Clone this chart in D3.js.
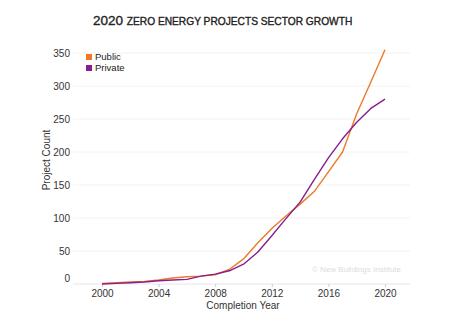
<!DOCTYPE html>
<html><head><meta charset="utf-8">
<script src="https://cdn.jsdelivr.net/npm/d3@7"></script>
<style>body{margin:0;background:#fff;}svg{display:block;font-family:"Liberation Sans",Arial,sans-serif;}</style>
</head><body>
<svg id="c" width="450" height="321"></svg>
<script>
const years = [2000,2001,2002,2003,2004,2005,2006,2007,2008,2009,2010,2011,2012,2013,2014,2015,2016,2017,2018,2019,2020];
const publicVals  = [1,2,3,4,6,9,11,12,14,22,38,62,84,103,121,140,170,200,258,306,355];
const privateVals = [0,1,2,3,5,6,7,12,15,20,30,48,73,99,124,158,191,220,245,266,280];
const yTicks = [0,50,100,150,200,250,300,350];
const xTicks = [2000,2004,2008,2012,2016,2020];
const seriesNames = ["Public","Private"];
const colors = ["#ec7a27","#8a1c8e"];

const svg = d3.select("#c");
const x = d3.scaleLinear().domain([2000,2020]).range([102,385]);
const y = d3.scaleLinear().domain([0,350]).range([284,53]);

svg.append("g").selectAll("line").data(yTicks).join("line")
  .attr("x1",73).attr("x2",410).attr("y1",d=>y(d)).attr("y2",d=>y(d))
  .attr("stroke",d=>d===0?"#e6e6e6":"#f2f2f2").attr("stroke-width",1);

svg.append("g").selectAll("text").data(yTicks).join("text")
  .attr("x",70).attr("y",d=>y(d)+(d===0?-2:3.5)).attr("text-anchor","end")
  .attr("font-size",10).attr("fill","#333").text(d=>d);

const xAxis = d3.axisBottom(x).tickValues(xTicks).tickFormat(d3.format("d")).tickSize(3).tickPadding(3);
const gx = svg.append("g").attr("transform","translate(0,284)").call(xAxis);
gx.select(".domain").remove();
gx.selectAll("line").attr("stroke","#ccc");
gx.selectAll("text").attr("font-size",10).attr("fill","#333").attr("font-family","Liberation Sans, Arial, sans-serif");

svg.append("text").attr("x",243).attr("y",309).attr("text-anchor","middle")
  .attr("font-size",10).attr("fill","#333").text("Completion Year");
svg.append("text").attr("transform","translate(50,160) rotate(-90)").attr("text-anchor","middle")
  .attr("font-size",10).attr("fill","#333").text("Project Count");

const line = d3.line().x((d,i)=>x(years[i])).y(d=>y(d));
[publicVals, privateVals].forEach((vals,k)=>{
  svg.append("path").datum(vals).attr("d",line).attr("fill","none")
    .attr("stroke",colors[k]).attr("stroke-width",1.4).attr("stroke-linejoin","round");
});

seriesNames.forEach((n,k)=>{
  svg.append("rect").attr("x",86).attr("y",54+k*11).attr("width",6).attr("height",6).attr("fill",colors[k]);
  svg.append("text").attr("x",95).attr("y",60+k*11).attr("font-size",9.5).attr("fill","#222").text(n);
});

svg.append("text").attr("x",401).attr("y",272).attr("text-anchor","end")
  .attr("font-size",8).attr("fill","#dcdcdc").text("© New Buildings Institute");

const t = svg.append("text").attr("x",93).attr("y",25).attr("fill","#222")
  .attr("stroke","#222").attr("stroke-width",0.35);
t.append("tspan").attr("font-size",13.5).text("2020 ");
t.append("tspan").attr("font-size",10.2).text("ZERO ENERGY PROJECTS SECTOR GROWTH");
</script>
</body></html>
